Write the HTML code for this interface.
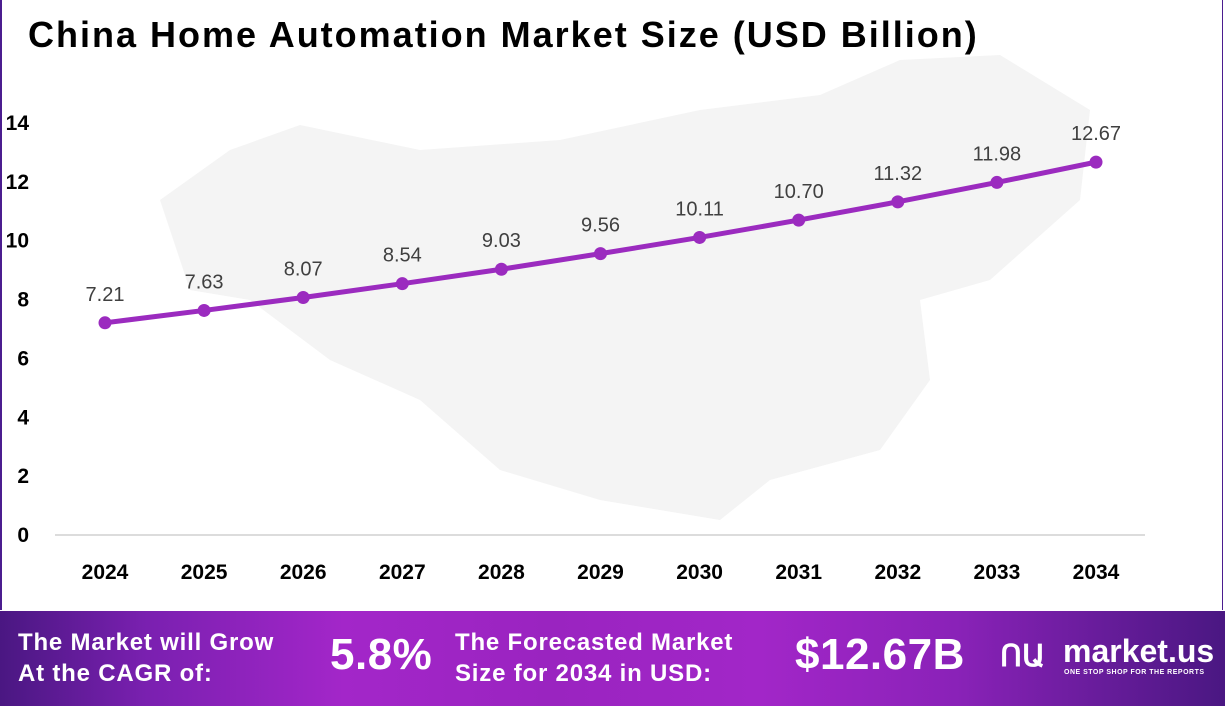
<!DOCTYPE html>
<html><head><meta charset="utf-8"><style>
body{margin:0;width:1225px;height:706px;overflow:hidden;background:#fff;font-family:"Liberation Sans",sans-serif;position:relative}
#frame{position:absolute;left:0;top:0;width:1223px;height:610px;border-left:2px solid #4b1d8f;border-right:1px solid #4b1d8f;box-sizing:border-box}
#title{position:absolute;left:28px;top:14px;font-size:36px;font-weight:bold;color:#000;letter-spacing:2px}
#footer{position:absolute;left:0;top:611px;width:1225px;height:95px;background:linear-gradient(90deg,#4a1782 0%,#7a20b0 12%,#a326c9 28%,#9a24c0 45%,#a226c8 62%,#8a22b8 78%,#4a1782 100%);color:#fff;font-weight:bold}
.ft{position:absolute;font-size:24px;line-height:31px;letter-spacing:0.8px}
.big{position:absolute;font-size:44px;top:19px;letter-spacing:0.5px}
</style></head><body>
<div id="frame"></div>
<div id="title">China Home Automation Market Size (USD Billion)</div>
<svg id="chart" width="1225" height="610" style="position:absolute;left:0;top:0">
<path d="M230 150 L300 125 L420 150 L560 140 L700 110 L820 95 L900 60 L1000 55 L1090 110 L1080 200 L990 280 L920 300 L930 380 L880 450 L770 480 L720 520 L600 500 L500 470 L420 400 L330 360 L250 300 L190 290 L160 200 Z" fill="#f4f4f4"/>
</svg>
<div id="footer">
<div class="ft" style="left:18px;top:16px">The Market will Grow<br>At the CAGR of:</div>
<div class="big" style="left:330px">5.8%</div>
<div class="ft" style="left:455px;top:16px">The Forecasted Market<br>Size for 2034 in USD:</div>
<div class="big" style="left:795px">$12.67B</div>
<div style="position:absolute;left:1000px;top:28px;font-size:30px">ՈԱ</div>
<div style="position:absolute;left:1063px;top:22px;font-size:32px">market.us</div>
<div style="position:absolute;left:1064px;top:58px;font-size:7px;letter-spacing:0.5px">ONE STOP SHOP FOR THE REPORTS</div>
</div>
<script>
const years=["2024","2025","2026","2027","2028","2029","2030","2031","2032","2033","2034"];
const values=[7.21,7.63,8.07,8.54,9.03,9.56,10.11,10.70,11.32,11.98,12.67];
const labels=["7.21","7.63","8.07","8.54","9.03","9.56","10.11","10.70","11.32","11.98","12.67"];
const yTicks=[0,2,4,6,8,10,12,14];
const svg=document.getElementById('chart');const NS='http://www.w3.org/2000/svg';
const x=i=>105+i*99.1;const y=v=>535-v*29.43;
function mk(t,a){const e=document.createElementNS(NS,t);for(const k in a)e.setAttribute(k,a[k]);svg.appendChild(e);return e;}
let ax=mk('line',{x1:55,x2:1145,y1:535,y2:535,stroke:'#d0d0d0','stroke-width':1.5});


yTicks.forEach(v=>{const t=mk('text',{x:29,y:y(v)+7,'text-anchor':'end','font-size':21,'font-weight':'bold',fill:'#000'});t.textContent=v;

});
years.forEach((yr,i)=>{const t=mk('text',{x:x(i),y:579,'text-anchor':'middle','font-size':21,'font-weight':'bold',fill:'#000'});t.textContent=yr;

});
const line=mk('polyline',{points:values.map((v,i)=>x(i)+','+y(v)).join(' '),fill:'none',stroke:'#9b2bbf','stroke-width':5});


values.forEach((v,i)=>{const c=mk('circle',{cx:x(i),cy:y(v),r:6.5,fill:'#9b2bbf'});


const t=mk('text',{x:x(i),y:y(v)-22,'text-anchor':'middle','font-size':20,fill:'#404040'});t.textContent=labels[i];

});
</script>
</body></html>
